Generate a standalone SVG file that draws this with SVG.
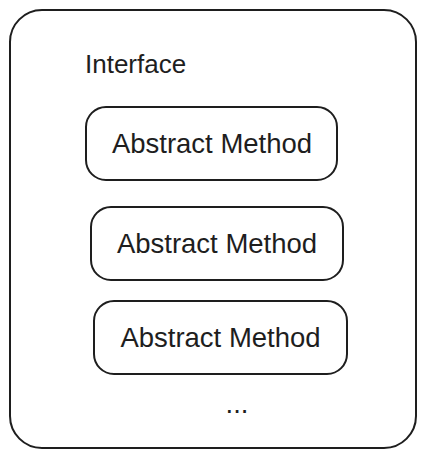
<svg xmlns="http://www.w3.org/2000/svg" width="426" height="458" viewBox="0 0 426 458">
<style>
.box{fill:#ffffff;stroke:#1e1e1e;stroke-width:2;}
.t{font-family:"Liberation Sans",Arial,sans-serif;fill:#1e1e1e;}
.m{font-size:27.5px;text-anchor:middle;}
</style>
<rect width="426" height="458" fill="#ffffff"/>
<g id="interface">
<rect class="box" x="10" y="10" width="406" height="438" rx="32" ry="32"/>
<text class="t" x="85" y="73" font-size="26">Interface</text>
<text class="t m" x="237" y="413">...</text>
</g>
<g id="method1">
<rect class="box" x="86" y="107" width="251" height="73" rx="20" ry="20"/>
<text class="t m" x="212" y="153">Abstract Method</text>
</g>
<g id="method2">
<rect class="box" x="91" y="207" width="252" height="73" rx="20" ry="20"/>
<text class="t m" x="217" y="253">Abstract Method</text>
</g>
<g id="method3">
<rect class="box" x="94" y="301" width="253" height="73" rx="20" ry="20"/>
<text class="t m" x="220.5" y="347">Abstract Method</text>
</g>
<g id="connectors"></g>
</svg>
